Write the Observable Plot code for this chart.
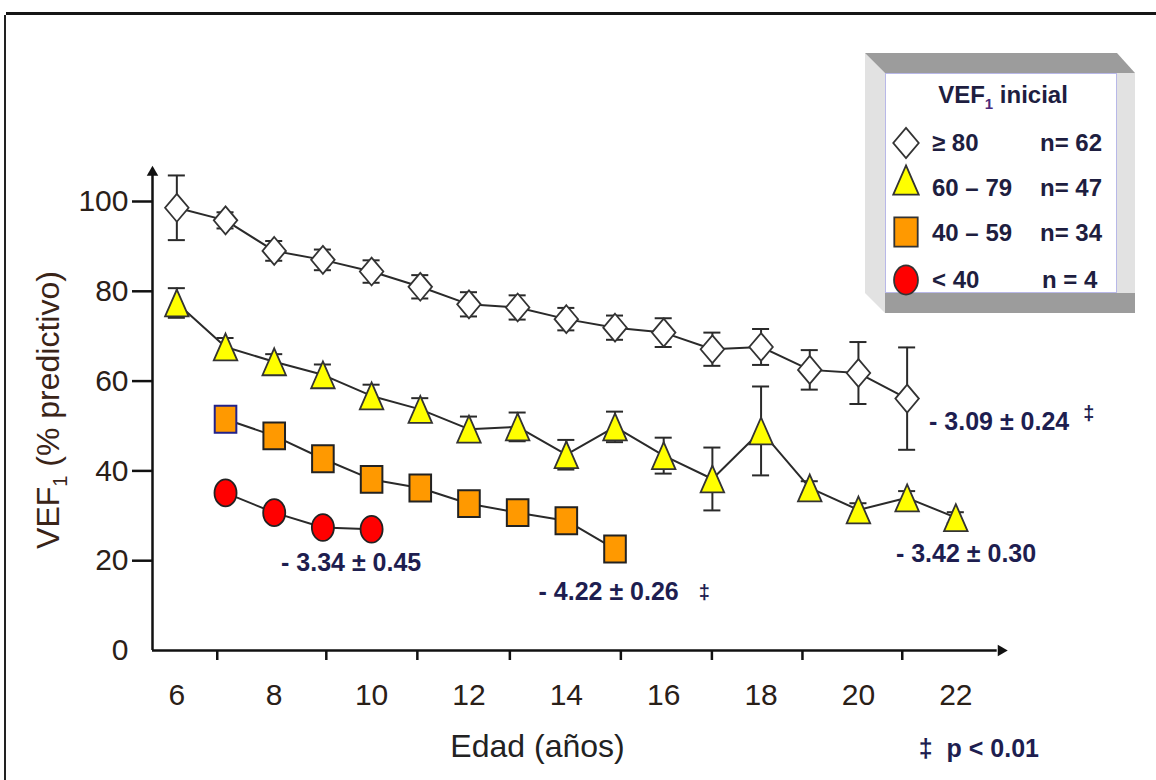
<!DOCTYPE html>
<html>
<head>
<meta charset="utf-8">
<script src="https://cdn.jsdelivr.net/npm/d3@7"></script>
<script src="https://cdn.jsdelivr.net/npm/@observablehq/plot@0.6"></script>
<style>
  body { margin: 0; background: #fff; }
  #wrap { position: relative; width: 1156px; height: 780px; overflow: hidden; background: #fff;
          font-family: "Liberation Sans", Arial, sans-serif; }
  #wrap > svg { position: absolute; left: 0; top: 0; }
  #topline { position: absolute; left: 6px; top: 12px; width: 1150px; height: 3px; background: #151515; }
  #leftline { position: absolute; left: 4px; top: 15px; width: 2px; height: 765px; background: #222; }
  #ytitle { position: absolute; left: 51px; top: 410px; transform: translate(-50%, -50%) rotate(-90deg);
            white-space: nowrap; font-size: 32px; color: #3a2418; }
  #ytitle sub { font-size: 20px; }
  #legend { position: absolute; left: 865px; top: 53px; width: 270px; height: 260px; }
  #legend svg { position: absolute; left: 0; top: 0; }
</style>
</head>
<body>
<div id="wrap">
  <div id="topline"></div>
  <div id="leftline"></div>
  <div id="ytitle">VEF<sub>1</sub> (% predictivo)</div>
  <div id="legend"></div>
</div>
<script>
// ---------- data ----------
const ageHigh = [6, 7, 8, 9, 10, 11, 12, 13, 14, 15, 16, 17, 18, 19, 20, 21];
const fevHigh = [98.6, 95.8, 89.0, 87.0, 84.4, 81.0, 77.1, 76.4, 73.8, 71.9, 70.8, 67.1, 67.6, 62.5, 61.8, 56.1];
const errHigh = [7.2, 1.8, 2.2, 2.3, 2.5, 2.6, 2.7, 2.7, 2.5, 2.7, 3.2, 3.7, 4.0, 4.4, 6.9, 11.4];

const ageMid = [6, 7, 8, 9, 10, 11, 12, 13, 14, 15, 16, 17, 18, 19, 20, 21, 22];
const fevMid = [77.4, 67.6, 64.3, 61.4, 56.7, 53.7, 49.3, 49.8, 43.6, 49.8, 43.4, 38.2, 48.9, 36.2, 31.3, 34.0, 29.6];
const errMid = [3.3, 2.0, 1.7, 2.3, 2.5, 2.5, 2.8, 3.2, 3.3, 3.4, 4.0, 7.0, 9.9, 1.5, 1.5, 1.5, 1.2];

const ageLow = [7, 8, 9, 10, 11, 12, 13, 14, 15];
const fevLow = [51.5, 47.8, 42.7, 38.1, 36.2, 32.7, 30.7, 28.9, 22.6];

const ageVLow = [7, 8, 9, 10];
const fevVLow = [35.1, 30.7, 27.4, 27.0];

const xLabelTicks = [6, 8, 10, 12, 14, 16, 18, 20, 22];
const xMarkTicks = [6.83, 9.07, 10.94, 12.84, 15.12, 16.99, 18.85, 20.9];
const yLabelTicks = [0, 20, 40, 60, 80, 100];
const yMarkTicks = [20, 40, 60, 80, 100];

const legendGroups = ["≥ 80", "60 – 79", "40 – 59", "< 40"];
const legendN = ["n= 62", "n= 47", "n= 34", "n = 4"];

const slopes = [
  {x: 21.45, y: 50.8, text: "- 3.09 ± 0.24"},
  {x: 20.77, y: 21.4, text: "- 3.42 ± 0.30"},
  {x: 8.14, y: 19.4, text: "- 3.34 ± 0.45"},
  {x: 13.43, y: 13.0, text: "- 4.22 ± 0.26"},
  {x: 21.24, y: -21.9, text: "‡  p < 0.01"}
];
const daggers = [
  {x: 24.62, y: 52.8, text: "‡"},
  {x: 16.72, y: 13.0, text: "‡"}
];

// ---------- tables ----------
const high = ageHigh.map((x, i) => ({x, y: fevHigh[i], e: errHigh[i]}));
const mid = ageMid.map((x, i) => ({x, y: fevMid[i], e: errMid[i]}));
const low = ageLow.map((x, i) => ({x, y: fevLow[i]}));
const vlow = ageVLow.map((x, i) => ({x, y: fevVLow[i]}));
const withErr = [...high, ...mid];

// ---------- custom (vertically stretched) symbols ----------
const sym = fn => ({draw(c, size) { fn(c, Math.sqrt(size / Math.PI)); }});
const diamondSym = sym((c, s) => { const w = s * 0.98, h = s * 1.16;
  c.moveTo(0, -h); c.lineTo(w, 0); c.lineTo(0, h); c.lineTo(-w, 0); c.closePath(); });
const triSym = sym((c, s) => { const w = s * 0.98, h = s * 1.12;
  c.moveTo(0, -h); c.lineTo(w, h); c.lineTo(-w, h); c.closePath(); });
const rectSym = sym((c, s) => { const w = s * 0.9, h = s * 1.12; c.rect(-w, -h, 2 * w, 2 * h); });
const ellSym = sym((c, s) => { const rx = s * 0.92, ry = s * 1.12, k = 0.5523;
  c.moveTo(rx, 0);
  c.bezierCurveTo(rx, ry * k, rx * k, ry, 0, ry);
  c.bezierCurveTo(-rx * k, ry, -rx, ry * k, -rx, 0);
  c.bezierCurveTo(-rx, -ry * k, -rx * k, -ry, 0, -ry);
  c.bezierCurveTo(rx * k, -ry, rx, -ry * k, rx, 0);
  c.closePath(); });

const capHalf = 0.175;
const ink = "#2a2a2a";

const chart = Plot.plot({
  width: 1156,
  height: 780,
  marginLeft: 152,
  marginRight: 152,
  marginTop: 172,
  marginBottom: 130,
  style: {fontFamily: "'Liberation Sans', Arial, sans-serif", background: "transparent", overflow: "visible"},
  x: {domain: [5.5, 23]},
  y: {domain: [0, 100], range: [650, 201]},
  marks: [
    // axes lines + arrows
    Plot.ruleY([0], {x1: 5.5, x2: 22.85, stroke: "#111", strokeWidth: 2.5}),
    Plot.ruleX([5.5], {y1: 0, y2: 106.3, stroke: "#111", strokeWidth: 2.5}),
    Plot.dot([{x: 22.93, y: 0}], {x: "x", y: "y", symbol: "triangle2", rotate: 90, r: 5.5, fill: "#111"}),
    Plot.dot([{x: 5.5, y: 106.5}], {x: "x", y: "y", symbol: "triangle2", r: 5.5, fill: "#111"}),
    // tick marks
    Plot.axisX({ticks: xMarkTicks, tickSize: 10, tickFormat: () => "", strokeWidth: 2.5, color: "#111", label: null}),
    Plot.axisY({ticks: yMarkTicks, tickSize: 20, tickFormat: () => "", strokeWidth: 2.5, color: "#111", label: null}),
    // tick labels
    Plot.axisX({ticks: xLabelTicks, tickSize: 0, tickPadding: 33, fontSize: 30, color: "#2a2018", label: null}),
    Plot.axisY({ticks: yLabelTicks, tickSize: 0, tickPadding: 24, fontSize: 30, color: "#2a2018", label: null}),
    // x title
    Plot.text(["Edad (años)"], {frameAnchor: "bottom", dx: -41, dy: 106, fontSize: 32, fill: "#222"}),
    // error bars
    Plot.ruleX(withErr, {x: "x", y1: d => d.y - d.e, y2: d => d.y + d.e, stroke: ink, strokeWidth: 2}),
    Plot.ruleY(withErr, {x1: d => d.x - capHalf, x2: d => d.x + capHalf, y: d => d.y + d.e, stroke: ink, strokeWidth: 2}),
    Plot.ruleY(withErr, {x1: d => d.x - capHalf, x2: d => d.x + capHalf, y: d => d.y - d.e, stroke: ink, strokeWidth: 2}),
    // connecting lines
    Plot.line(high, {x: "x", y: "y", stroke: ink, strokeWidth: 2}),
    Plot.line(mid, {x: "x", y: "y", stroke: ink, strokeWidth: 2}),
    Plot.line(low, {x: "x", y: "y", stroke: ink, strokeWidth: 2}),
    Plot.line(vlow, {x: "x", y: "y", stroke: ink, strokeWidth: 2}),
    // markers
    Plot.dot(high, {x: "x", y: "y", symbol: diamondSym, r: 12, fill: "#fff", stroke: "#333", strokeWidth: 1.8}),
    Plot.dot(mid, {x: "x", y: "y", symbol: triSym, r: 12, fill: "#ffff00", stroke: "#333", strokeWidth: 1.8}),
    Plot.dot(low, {x: "x", y: "y", symbol: rectSym, r: 12, fill: "#ff9900",
      stroke: (d, i) => i === 0 ? "#22228a" : "#222", strokeWidth: 2}),
    Plot.dot(vlow, {x: "x", y: "y", symbol: ellSym, r: 12, fill: "#ff0000", stroke: "#222", strokeWidth: 1.8}),
    // annotations
    Plot.text(slopes, {x: "x", y: "y", text: "text", textAnchor: "start", fontSize: 25, fontWeight: "bold", fill: "#1e1e50"}),
    Plot.text(daggers, {x: "x", y: "y", text: "text", textAnchor: "start", fontSize: 20, fontWeight: "bold", fill: "#1e1e50"})
  ]
});
document.getElementById("wrap").prepend(chart);

// ---------- legend (3-D framed box) ----------
const legSvg = d3.select("#legend").append("svg").attr("width", 270).attr("height", 260)
  .style("font-family", "'Liberation Sans', Arial, sans-serif");
const bands = [
  {pts: [[0, 0], [20, 20], [20, 260], [0, 240]], fill: "#e2e2e2"},
  {pts: [[252, 20], [270, 20], [270, 240], [252, 240]], fill: "#e2e2e2"},
  {pts: [[0, 0], [252, 0], [270, 20], [20, 20]], fill: "#9c9c9c"},
  {pts: [[20, 240], [270, 240], [270, 260], [20, 260]], fill: "#9c9c9c"}
];
bands.forEach(b => legSvg.append("polygon").attr("points", b.pts.map(p => p.join(",")).join(" ")).attr("fill", b.fill));
const inner = legSvg.append("g").attr("transform", "translate(20,20)");
inner.append("rect").attr("x", 0.5).attr("y", 0.5).attr("width", 231).attr("height", 219)
  .attr("fill", "#fff").attr("stroke", "#b8b8e8");
const title = inner.append("text").attr("x", 118).attr("y", 30).attr("text-anchor", "middle")
  .attr("font-size", 24).attr("font-weight", "bold").attr("fill", "#1e1e40");
title.append("tspan").text("VEF");
title.append("tspan").attr("font-size", 15).attr("dy", 6).attr("fill", "#4a2a7a").text("1");
title.append("tspan").attr("dy", -6).text(" inicial");

const legSyms = [
  {sym: diamondSym, fill: "#fff", cy: 70},
  {sym: triSym, fill: "#ffff00", cy: 107},
  {sym: rectSym, fill: "#ff9900", cy: 159},
  {sym: ellSym, fill: "#ff0000", cy: 207}
];
const rowY = [70, 115, 160, 207];
legSyms.forEach((s, i) => {
  inner.append("path").attr("d", d3.symbol(s.sym, 13 * 13 * Math.PI)())
    .attr("transform", `translate(21,${s.cy})`)
    .attr("fill", s.fill).attr("stroke", "#333").attr("stroke-width", 1.8);
  inner.append("text").attr("x", 47).attr("y", rowY[i]).attr("dy", "0.35em")
    .attr("font-size", 24).attr("font-weight", "bold").attr("fill", "#1e1e40").text(legendGroups[i]);
  inner.append("text").attr("x", i === 3 ? 157 : 155).attr("y", rowY[i]).attr("dy", "0.35em")
    .attr("font-size", 24).attr("font-weight", "bold").attr("fill", "#1e1e40").text(legendN[i]);
});
</script>
</body>
</html>
